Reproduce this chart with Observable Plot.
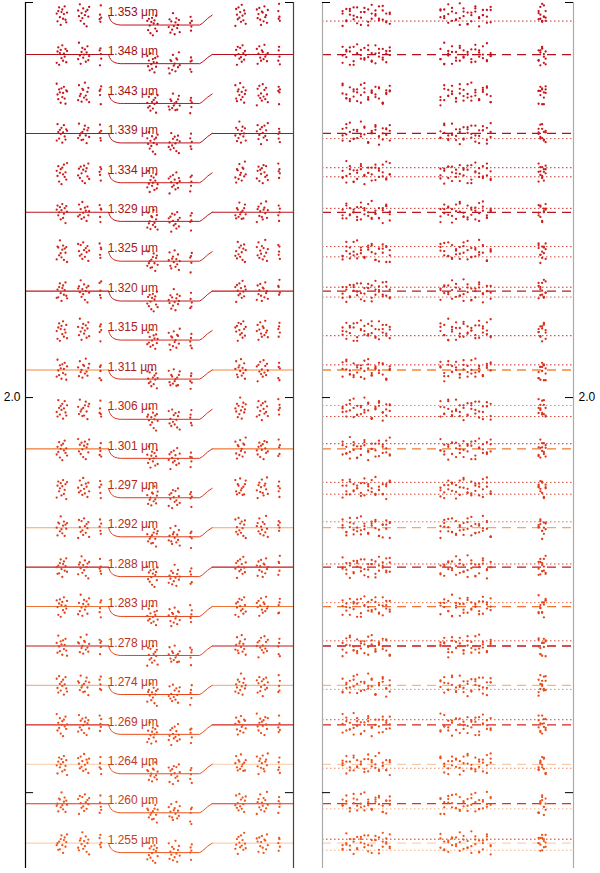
<!DOCTYPE html>
<html><head><meta charset="utf-8">
<script src="https://cdn.jsdelivr.net/npm/d3@7"></script>
<script src="https://cdn.jsdelivr.net/npm/@observablehq/plot@0.6"></script>
<style>
body{margin:0;background:#fff;}
#wrap{position:relative;width:600px;height:873px;font-family:"Liberation Sans",Arial,sans-serif;}
#left,#right{position:absolute;top:0;}
#left{left:0}#right{left:300px}
</style></head><body><div id="wrap"><div id="left"></div><div id="right"></div></div>
<script>
// ---------- data ----------
const wavelengths = [1.353,1.348,1.343,1.339,1.334,1.329,1.325,1.320,1.315,1.311,1.306,1.301,1.297,1.292,1.288,1.283,1.278,1.274,1.269,1.264,1.260,1.255];
const firstBaseline = 2.0968;   // relative flux + offset of top row
const rowOffset = 0.00998;      // vertical offset between channels
const depths = [0.0025,0.0023,0.0024,0.0024,0.0025,0.0023,0.0024,0.0025,0.0024,0.0023,0.0025,0.0024,0.0024,0.0023,0.0024,0.0025,0.0024,0.0023,0.0024,0.0024,0.0023,0.0024];
// colour of the out-of-transit model line / zero-residual dashed line (null = not drawn)
const lineColors = [null,"#b4101e",null,"#b4101e",null,"#b81620",null,"#c01a1e",null,"#f0893c",null,"#ef7a32",null,"#f6a666","#c01a1e","#f07434","#c4161e","#f8b484","#d42420","#f9caa6","#e2321e","#fad4b6"];
// HST visits: start time (hours from mid-transit), in-transit flag
const visitStart = [-2.40,-0.372,1.60];
const visitInTransit = [0,1,0];
const orbitHours = 1.231;
// exposure phases within each visit (three sub-groups)
const phaseA = [0.080,0.095,0.109,0.124,0.138,0.153,0.167,0.182,0.196,0.211,0.225,0.240,0.254,0.268];
const phaseB = [0.470,0.485,0.501,0.516,0.532,0.547,0.562,0.578,0.593,0.609,0.624,0.639,0.655,0.670];
const phaseC = [0.861,0.868,0.875,0.882,0.889];
// residuals (units of residualUnit relative flux), read as a scatter pattern
const residualUnit = 1.3e-4;
const residuals = [3,-12,8,15,-4,-19,6,11,-7,2,17,-9,-14,5,9,-2,21,-11,4,-6,13,-17,0,7,-22,10,-3,16,-8,1,-13,19,-5,8,-10,12,-1,-16,6,14,-20,3,9,-7,18,-12,2,-4,11,-15,7,-9,23,-2,-18,5,13,-6,0,10,-14,4,16,-11,-3,8,-21,12,1,-8,15,-5,6,-13,20,-1,-10,9,3,-17,11,-6,2,14,-9,-19,7,5,-12,17,-4,0,-15,10,8,-7,22,-3,-11,4,12,-16,6,-2,9,-20,15,1,-8,13,-5,-14,18,3,-10,7,-1,11,-18,2,16,-6,-12,8,5,-9,19,-4,0,-13];
// transit model shape: time (h) and fraction of depth
const modelT = [-1.14,-1.12,-1.09,-1.05,-1.00,-0.94,-0.88,-0.80,0.90,0.96,1.02,1.08,1.18];
const modelF = [0,0.30,0.55,0.75,0.88,0.96,1,1,1,0.82,0.58,0.32,0];
const xLeftDomain = [-3,3];
// dotted lines in the residual panel: [row, offset (1e-4 flux), colour]
const dottedLines = [
 [0,-15,"#c0302a"],[3,-13,"#d06050"],[4,13,"#c0302a"],[4,-10,"#c0302a"],[5,10,"#c0302a"],
 [6,13,"#d04a3a"],[6,-13,"#d04a3a"],[7,10,"#c0302a"],[7,-15,"#d06050"],[8,-13,"#c0302a"],
 [9,13,"#c82a2a"],[10,10,"#e08a6a"],[10,-18,"#d04a3a"],[11,13,"#c82a2a"],[12,15,"#d04a3a"],[12,-15,"#d04a3a"],
 [13,15,"#e07050"],[14,8,"#d04a3a"],[15,10,"#e07050"],[16,13,"#d04a3a"],[17,-10,"#e08a6a"],
 [18,13,"#d04a3a"],[19,-10,"#e08a6a"],[20,-13,"#f0b080"],[21,10,"#c0302a"],[21,-18,"#f0b080"]
];
const yTicks = [1.9,2.0,2.1];
const yLabelTicks = [2.0];

// ---------- derived tables ----------
const nRows = wavelengths.length;
const ramp = d3.interpolateRgb("#c4101c","#f0561a");
const rows = wavelengths.map((w,i)=>({
  row:i, w, base:firstBaseline - i*rowOffset, depth:depths[i],
  color: ramp(i/(nRows-1)),
  tcolor: d3.interpolateRgb("#a00c14","#c8401a")(i/(nRows-1)),
  lineColor: lineColors[i],
  label: w.toFixed(3)+" \u03bcm"
}));
const phases = [...phaseA,...phaseB,...phaseC];
const points = [];
rows.forEach(r=>{
  let j=0;
  visitStart.forEach((vs,v)=>{
    phases.forEach(p=>{
      const res = residuals[(j + r.row*37) % residuals.length]*residualUnit;
      const model = r.base - r.depth*visitInTransit[v];
      points.push({row:r.row, t: vs + p*orbitHours, phase:p, f: model+res, res: r.base+res, color:r.color});
      j++;
    });
  });
});
const dip = [];
rows.forEach(r=>modelT.forEach((t,k)=>dip.push({row:r.row, t, f:r.base - r.depth*modelF[k], color: r.lineColor && r.row<9 ? r.lineColor : r.color})));
const baseSegs = [];
rows.filter(r=>r.lineColor).forEach(r=>{
  baseSegs.push({seg:r.row*2, t:xLeftDomain[0], f:r.base, color:r.lineColor});
  baseSegs.push({seg:r.row*2, t:modelT[0], f:r.base, color:r.lineColor});
  baseSegs.push({seg:r.row*2+1, t:modelT[modelT.length-1], f:r.base, color:r.lineColor});
  baseSegs.push({seg:r.row*2+1, t:xLeftDomain[1], f:r.base, color:r.lineColor});
});
const dots = dottedLines.map(([row,off,c])=>({y: rows[row].base + off*1e-4, color:c}));
const dashed = rows.filter(r=>r.lineColor);

const yDomain = [1.8808, 2.1];
const common = {
  height: 873, marginTop: 2, marginBottom: 5,
  y: {domain: yDomain, ticks: yLabelTicks, tickSize: 0, tickPadding: 5, tickFormat: ".1f", label: null},
  color: {type: "identity"},
  style: {fontFamily: "'Liberation Sans', Arial, sans-serif", fontSize: "12px", background: "transparent", color: "#000"}
};

const left = Plot.plot({
  ...common,
  width: 300, marginLeft: 25, marginRight: 7,
  x: {domain: xLeftDomain, axis: null},
  y: {...common.y, axis: "left"},
  marks: [
    Plot.line(baseSegs, {x:"t", y:"f", z:"seg", stroke:"color", strokeWidth:1.1}),
    Plot.line(dip, {x:"t", y:"f", z:"row", stroke:"color", strokeWidth:1, curve:"linear"}),
    Plot.dot(points, {x:"t", y:"f", r:1.15, fill:"color", stroke:null}),
    Plot.text(rows, {x: -1.16, y: d=>d.base + 0.0008, text:"label", textAnchor:"start", fill:"tcolor", fontSize:12}),
    Plot.ruleX([xLeftDomain[0]], {y1: yDomain[0], y2: yDomain[1], stroke:"#000", strokeWidth:1.2}),
    Plot.ruleX([xLeftDomain[1]], {y1: yDomain[0], y2: yDomain[1], stroke:"#444", strokeWidth:1.2}),
    Plot.ruleY(yTicks, {x1: xLeftDomain[0], x2: xLeftDomain[0]+0.18, stroke:"#000"}),
    Plot.ruleY(yTicks, {x1: xLeftDomain[1]-0.18, x2: xLeftDomain[1], stroke:"#000"})
  ]
});

const right = Plot.plot({
  ...common,
  width: 300, marginLeft: 22, marginRight: 27,
  x: {domain: [0,1], axis: null},
  y: {...common.y, axis: "right"},
  marks: [
    Plot.ruleY(dots, {y:"y", stroke:"color", strokeDasharray:"1.5,2.5", strokeWidth:1}),
    Plot.ruleY(dashed, {y:"base", stroke:"lineColor", strokeDasharray:"9,6", strokeWidth:1.3}),
    Plot.dot(points, {x:"phase", y:"res", r:1.15, fill:"color", stroke:null}),
    Plot.ruleX([0], {y1: yDomain[0], y2: yDomain[1], stroke:"#aaa", strokeWidth:1.2}),
    Plot.ruleX([1], {y1: yDomain[0], y2: yDomain[1], stroke:"#aaa", strokeWidth:1.2}),
    Plot.ruleY(yTicks, {x1: 0, x2: 0.032, stroke:"#000"}),
    Plot.ruleY(yTicks, {x1: 0.968, x2: 1, stroke:"#000"})
  ]
});
document.getElementById("left").appendChild(left);
document.getElementById("right").appendChild(right);
</script></body></html>
